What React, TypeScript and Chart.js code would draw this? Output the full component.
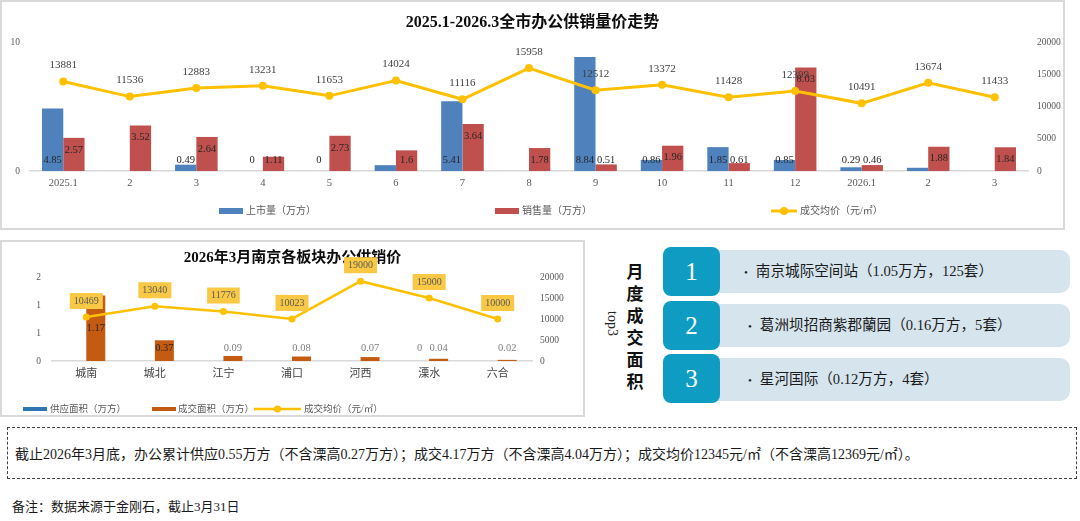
import React, { useEffect, useRef } from "react";
import { Chart, registerables } from "chart.js";

Chart.register(...registerables);

const SERIF = "'Liberation Serif', 'Noto Sans CJK SC', serif";

// ---------- Top chart data ----------
const months = ["2025.1", "2", "3", "4", "5", "6", "7", "8", "9", "10", "11", "12", "2026.1", "2", "3"];
const supplyArea: (number | null)[] = [4.85, null, 0.49, 0, 0, 0.45, 5.41, null, 8.84, 0.86, 1.85, 0.85, 0.29, 0.25, null];
const supplyLabelHidden = [5, 13];
const salesArea: (number | null)[] = [2.57, 3.52, 2.64, 1.11, 2.73, 1.6, 3.64, 1.78, 0.51, 1.96, 0.61, 8.03, 0.46, 1.88, 1.84];
const avgPrice = [13881, 11536, 12883, 13231, 11653, 14024, 11116, 15958, 12512, 13372, 11428, 12399, 10491, 13674, 11433];
const topLeftTicks = [0, 10];
const topRightTicks = [0, 5000, 10000, 15000, 20000];
const topTitle = "2025.1-2026.3全市办公供销量价走势";
const topSeriesNames = ["上市量（万方）", "销售量（万方）", "成交均价（元/㎡）"];

// ---------- District chart data ----------
const districts = ["城南", "城北", "江宁", "浦口", "河西", "溧水", "六合"];
const districtSupply: (number | null)[] = [null, null, null, null, null, 0, null];
const districtSales: (number | null)[] = [1.17, 0.37, 0.09, 0.08, 0.07, 0.04, 0.02];
const districtPrice = [10469, 13040, 11776, 10023, 19000, 15000, 10000];
const districtLeftTicks = [0, 0.5, 1, 1.5];
const districtRightTicks = [0, 5000, 10000, 15000, 20000];
const districtTitle = "2026年3月南京各板块办公供销价";
const districtSeriesNames = ["供应面积（万方）", "成交面积（万方）", "成交均价（元/㎡）"];

// ---------- Top3 panel ----------
const top3Heading = ["月", "度", "成", "交", "面", "积"];
const top3Side = "top3";
const top3Rank = ["1", "2", "3"];
const top3Text = [
  "南京城际空间站（1.05万方，125套）",
  "葛洲坝招商紫郡蘭园（0.16万方，5套）",
  "星河国际（0.12万方，4套）",
];

const summaryText =
  "截止2026年3月底，办公累计供应0.55万方（不含溧高0.27万方）；成交4.17万方（不含溧高4.04万方）；成交均价12345元/㎡（不含溧高12369元/㎡）。";
const noteText = "备注：数据来源于金刚石，截止3月31日";

type LegendItem = { kind: "box" | "line"; color: string; x: number; w: number; h: number; textX: number; text: string };

function drawLegend(ctx: CanvasRenderingContext2D, items: LegendItem[], y: number, font: string, lw: number, r: number) {
  ctx.save();
  ctx.textAlign = "left";
  ctx.textBaseline = "middle";
  ctx.font = font;
  items.forEach((it) => {
    if (it.kind === "box") {
      ctx.fillStyle = it.color;
      ctx.fillRect(it.x, y - it.h / 2, it.w, it.h);
    } else {
      ctx.strokeStyle = it.color;
      ctx.lineWidth = lw;
      ctx.beginPath();
      ctx.moveTo(it.x, y);
      ctx.lineTo(it.x + it.w, y);
      ctx.stroke();
      ctx.fillStyle = it.color;
      ctx.beginPath();
      ctx.arc(it.x + it.w / 2, y, r, 0, Math.PI * 2);
      ctx.fill();
    }
    ctx.fillStyle = "#595959";
    ctx.fillText(it.text, it.textX, y);
  });
  ctx.restore();
}

const topExtras = {
  id: "topExtras",
  afterDatasetsDraw(chart: any) {
    const ctx: CanvasRenderingContext2D = chart.ctx;
    const base = chart.scales.y.getPixelForValue(0);
    ctx.save();
    ctx.textAlign = "center";
    ctx.textBaseline = "middle";
    ctx.font = `10.5px ${SERIF}`;
    chart.getDatasetMeta(0).data.forEach((el: any, i: number) => {
      const v = supplyArea[i];
      if (v == null || supplyLabelHidden.includes(i)) return;
      ctx.fillStyle = "#262626";
      ctx.fillText(String(v), el.x, base - 11);
    });
    chart.getDatasetMeta(1).data.forEach((el: any, i: number) => {
      const v = salesArea[i];
      if (v == null) return;
      ctx.fillStyle = "#262626";
      ctx.fillText(String(v), el.x, Math.min(el.y + 12, base - 11));
    });
    ctx.font = `11px ${SERIF}`;
    ctx.fillStyle = "#404040";
    chart.getDatasetMeta(2).data.forEach((el: any, i: number) => {
      ctx.fillText(String(avgPrice[i]), el.x, el.y - 16);
    });
    ctx.restore();
  },
  afterDraw(chart: any) {
    const ds = chart.data.datasets;
    drawLegend(
      chart.ctx,
      [
        { kind: "box", color: ds[0].backgroundColor, x: 217, w: 24, h: 6, textX: 244, text: ds[0].label },
        { kind: "box", color: ds[1].backgroundColor, x: 493, w: 24, h: 6, textX: 520, text: ds[1].label },
        { kind: "line", color: ds[2].borderColor, x: 769, w: 26, h: 0, textX: 798, text: ds[2].label },
      ],
      209,
      `10px ${SERIF}`,
      3,
      4
    );
  },
};

const districtExtras = {
  id: "districtExtras",
  afterDatasetsDraw(chart: any) {
    const ctx: CanvasRenderingContext2D = chart.ctx;
    const base = chart.scales.y.getPixelForValue(0);
    ctx.save();
    ctx.textAlign = "center";
    ctx.textBaseline = "middle";
    ctx.font = `10.5px ${SERIF}`;
    [districtSupply, districtSales].forEach((arr, d) => {
      chart.getDatasetMeta(d).data.forEach((el: any, i: number) => {
        const v = arr[i];
        if (v == null) return;
        const center = (el.y + base) / 2;
        const y = Math.min(center, base - 13);
        ctx.fillStyle = y > el.y + 4 ? "#262626" : "#7f7f7f";
        ctx.fillText(String(v), el.x, y);
      });
    });
    ctx.font = `10px ${SERIF}`;
    chart.getDatasetMeta(2).data.forEach((el: any, i: number) => {
      const t = String(districtPrice[i]);
      const w = ctx.measureText(t).width + 8;
      const cy = el.y - 16;
      ctx.fillStyle = "#F9C844";
      ctx.fillRect(el.x - w / 2, cy - 8, w, 16);
      ctx.fillStyle = "#595959";
      ctx.fillText(t, el.x, cy);
    });
    ctx.restore();
  },
  afterDraw(chart: any) {
    const ds = chart.data.datasets;
    drawLegend(
      chart.ctx,
      [
        { kind: "box", color: ds[0].backgroundColor, x: 21, w: 24, h: 4, textX: 48, text: ds[0].label },
        { kind: "box", color: ds[1].backgroundColor, x: 150, w: 24, h: 4, textX: 176, text: ds[1].label },
        { kind: "line", color: ds[2].borderColor, x: 252, w: 47, h: 0, textX: 302, text: ds[2].label },
      ],
      167,
      `9.5px ${SERIF}`,
      2.5,
      3.5
    );
  },
};

const plainTick = (v: any) => String(v);

function TopChart() {
  const ref = useRef<HTMLCanvasElement>(null);
  useEffect(() => {
    const tickFont = { family: SERIF, size: 9.5 };
    const chart = new Chart(ref.current as HTMLCanvasElement, {
      data: {
        labels: months,
        datasets: [
          {
            type: "bar",
            label: topSeriesNames[0],
            data: supplyArea,
            backgroundColor: "#4F81BD",
            yAxisID: "y",
            order: 2,
            categoryPercentage: 0.64,
            barPercentage: 1,
          },
          {
            type: "bar",
            label: topSeriesNames[1],
            data: salesArea,
            backgroundColor: "#C0504D",
            yAxisID: "y",
            order: 2,
            categoryPercentage: 0.64,
            barPercentage: 1,
          },
          {
            type: "line",
            label: topSeriesNames[2],
            data: avgPrice,
            yAxisID: "y1",
            borderColor: "#FFC000",
            backgroundColor: "#FFC000",
            borderWidth: 3,
            pointRadius: 4,
            pointBackgroundColor: "#FFC000",
            pointBorderWidth: 0,
            tension: 0,
            order: 1,
          },
        ] as any,
      },
      options: {
        responsive: false,
        animation: false,
        events: [],
        layout: { padding: 0 },
        plugins: {
          legend: { display: false },
          tooltip: { enabled: false },
          title: {
            display: true,
            text: topTitle,
            color: "#0d0d0d",
            font: { family: SERIF, size: 16, weight: "bold", lineHeight: 1.2 },
            padding: { top: 11.6, bottom: 9.2 },
          },
        },
        scales: {
          x: {
            grid: { display: true, drawOnChartArea: false, drawTicks: false },
            border: { display: true, color: "#d9d9d9", width: 1.5 },
            ticks: { color: "#595959", font: { family: SERIF, size: 10.5 }, padding: 6, maxRotation: 0, autoSkip: false },
            afterFit: (s: any) => {
              s.height = 57;
            },
          },
          y: {
            position: "left",
            min: 0,
            max: 10,
            grid: { display: false, drawTicks: false },
            border: { display: false },
            ticks: { color: "#595959", font: tickFont, padding: 10, callback: plainTick },
            afterBuildTicks: (s: any) => {
              s.ticks = topLeftTicks.map((v) => ({ value: v }));
            },
            afterFit: (s: any) => {
              s.width = 28;
            },
          },
          y1: {
            position: "right",
            min: 0,
            max: 20000,
            grid: { display: false, drawTicks: false },
            border: { display: false },
            ticks: { color: "#595959", font: tickFont, padding: 9, callback: plainTick },
            afterBuildTicks: (s: any) => {
              s.ticks = topRightTicks.map((v) => ({ value: v }));
            },
            afterFit: (s: any) => {
              s.width = 35;
            },
          },
        },
      } as any,
      plugins: [topExtras as any],
    });
    return () => chart.destroy();
  }, []);
  return <canvas ref={ref} width={1061} height={226} style={{ position: "absolute", left: 0, top: 0, width: 1061, height: 226 }} />;
}

function DistrictChart() {
  const ref = useRef<HTMLCanvasElement>(null);
  useEffect(() => {
    const tickFont = { family: SERIF, size: 9.5 };
    const chart = new Chart(ref.current as HTMLCanvasElement, {
      data: {
        labels: districts,
        datasets: [
          {
            type: "bar",
            label: districtSeriesNames[0],
            data: districtSupply,
            backgroundColor: "#2E75B6",
            yAxisID: "y",
            order: 2,
            categoryPercentage: 0.554,
            barPercentage: 1,
          },
          {
            type: "bar",
            label: districtSeriesNames[1],
            data: districtSales,
            backgroundColor: "#C55A11",
            yAxisID: "y",
            order: 2,
            categoryPercentage: 0.554,
            barPercentage: 1,
          },
          {
            type: "line",
            label: districtSeriesNames[2],
            data: districtPrice,
            yAxisID: "y1",
            borderColor: "#FFC000",
            backgroundColor: "#FFC000",
            borderWidth: 2.5,
            pointRadius: 3.5,
            pointBackgroundColor: "#FFC000",
            pointBorderWidth: 0,
            tension: 0,
            order: 1,
          },
        ] as any,
      },
      options: {
        responsive: false,
        animation: false,
        events: [],
        layout: { padding: 0 },
        plugins: {
          legend: { display: false },
          tooltip: { enabled: false },
          title: {
            display: true,
            text: districtTitle,
            color: "#0d0d0d",
            font: { family: SERIF, size: 15, weight: "bold", lineHeight: 1.2 },
            padding: { top: 7, bottom: 10 },
          },
        },
        scales: {
          x: {
            grid: { display: true, drawOnChartArea: false, drawTicks: false },
            border: { display: true, color: "#d9d9d9", width: 1.5 },
            ticks: { color: "#404040", font: { family: SERIF, size: 11 }, padding: 7, maxRotation: 0, autoSkip: false },
            afterFit: (s: any) => {
              s.height = 54;
            },
          },
          y: {
            position: "left",
            min: 0,
            max: 1.5,
            grid: { display: false, drawTicks: false },
            border: { display: false },
            ticks: { color: "#595959", font: tickFont, padding: 11, callback: (v: any) => String(Math.round(Number(v))) },
            afterBuildTicks: (s: any) => {
              s.ticks = districtLeftTicks.map((v) => ({ value: v }));
            },
            afterFit: (s: any) => {
              s.width = 50;
            },
          },
          y1: {
            position: "right",
            min: 0,
            max: 20000,
            grid: { display: false, drawTicks: false },
            border: { display: false },
            ticks: { color: "#595959", font: tickFont, padding: 8, callback: plainTick },
            afterBuildTicks: (s: any) => {
              s.ticks = districtRightTicks.map((v) => ({ value: v }));
            },
            afterFit: (s: any) => {
              s.width = 51;
            },
          },
        },
      } as any,
      plugins: [districtExtras as any],
    });
    return () => chart.destroy();
  }, []);
  return <canvas ref={ref} width={581} height={173} style={{ position: "absolute", left: 0, top: 0, width: 581, height: 173 }} />;
}

const rowTops = [250, 304, 358];
const rankTops = [247, 301, 354];

export default function App() {
  return (
    <div
      style={{
        position: "fixed",
        left: 0,
        top: 0,
        width: 1080,
        height: 521,
        background: "#fff",
        overflow: "hidden",
        fontFamily: SERIF,
      }}
    >
      <div
        style={{
          position: "absolute",
          left: 0,
          top: 0,
          width: 1065,
          height: 230,
          border: "2px solid #d9d9d9",
          boxSizing: "border-box",
        }}
      >
        <TopChart />
      </div>

      <div
        style={{
          position: "absolute",
          left: 0,
          top: 240,
          width: 585,
          height: 177,
          border: "2px solid #d9d9d9",
          boxSizing: "border-box",
        }}
      >
        <DistrictChart />
      </div>

      {/* Top3 panel */}
      <div style={{ position: "absolute", left: 626, top: 262, width: 18 }}>
        {top3Heading.map((c, i) => (
          <div
            key={i}
            style={{ height: 22, lineHeight: "22px", fontSize: 17, fontWeight: "bold", textAlign: "center", color: "#111" }}
          >
            {c}
          </div>
        ))}
      </div>
      <div
        style={{
          position: "absolute",
          left: 604,
          top: 311,
          writingMode: "vertical-rl",
          fontSize: 14,
          lineHeight: "16px",
          color: "#222",
        }}
      >
        {top3Side}
      </div>
      {top3Text.map((t, i) => (
        <div
          key={"row" + i}
          style={{
            position: "absolute",
            left: 712,
            top: rowTops[i],
            width: 358,
            height: 43,
            background: "#d6e4ed",
            borderRadius: "0 10px 10px 0",
          }}
        />
      ))}
      {top3Rank.map((r, i) => (
        <div
          key={"rank" + i}
          style={{
            position: "absolute",
            left: 663,
            top: rankTops[i],
            width: 57,
            height: 49,
            background: "#0f9cc3",
            borderRadius: 8,
            color: "#fff",
            fontSize: 25,
            lineHeight: "49px",
            textAlign: "center",
          }}
        >
          {r}
        </div>
      ))}
      {top3Text.map((t, i) => (
        <div
          key={"txt" + i}
          style={{
            position: "absolute",
            left: i === 0 ? 744 : 748,
            top: rowTops[i],
            height: 43,
            lineHeight: "43px",
            fontSize: 14.6,
            color: "#1a1a1a",
            whiteSpace: "nowrap",
          }}
        >
          <span style={{ fontSize: 11, marginRight: 8 }}>•</span>
          {t}
        </div>
      ))}

      {/* Summary box */}
      <div
        style={{
          position: "absolute",
          left: 7,
          top: 427,
          width: 1070,
          height: 52,
          border: "1px dashed #404040",
          boxSizing: "border-box",
          display: "flex",
          alignItems: "center",
          paddingLeft: 7,
          fontSize: 14,
          color: "#1a1a1a",
          whiteSpace: "nowrap",
        }}
      >
        {summaryText}
      </div>
      <div
        style={{
          position: "absolute",
          left: 12,
          top: 499,
          fontSize: 13,
          lineHeight: "16px",
          color: "#1a1a1a",
          whiteSpace: "nowrap",
        }}
      >
        {noteText}
      </div>
    </div>
  );
}
